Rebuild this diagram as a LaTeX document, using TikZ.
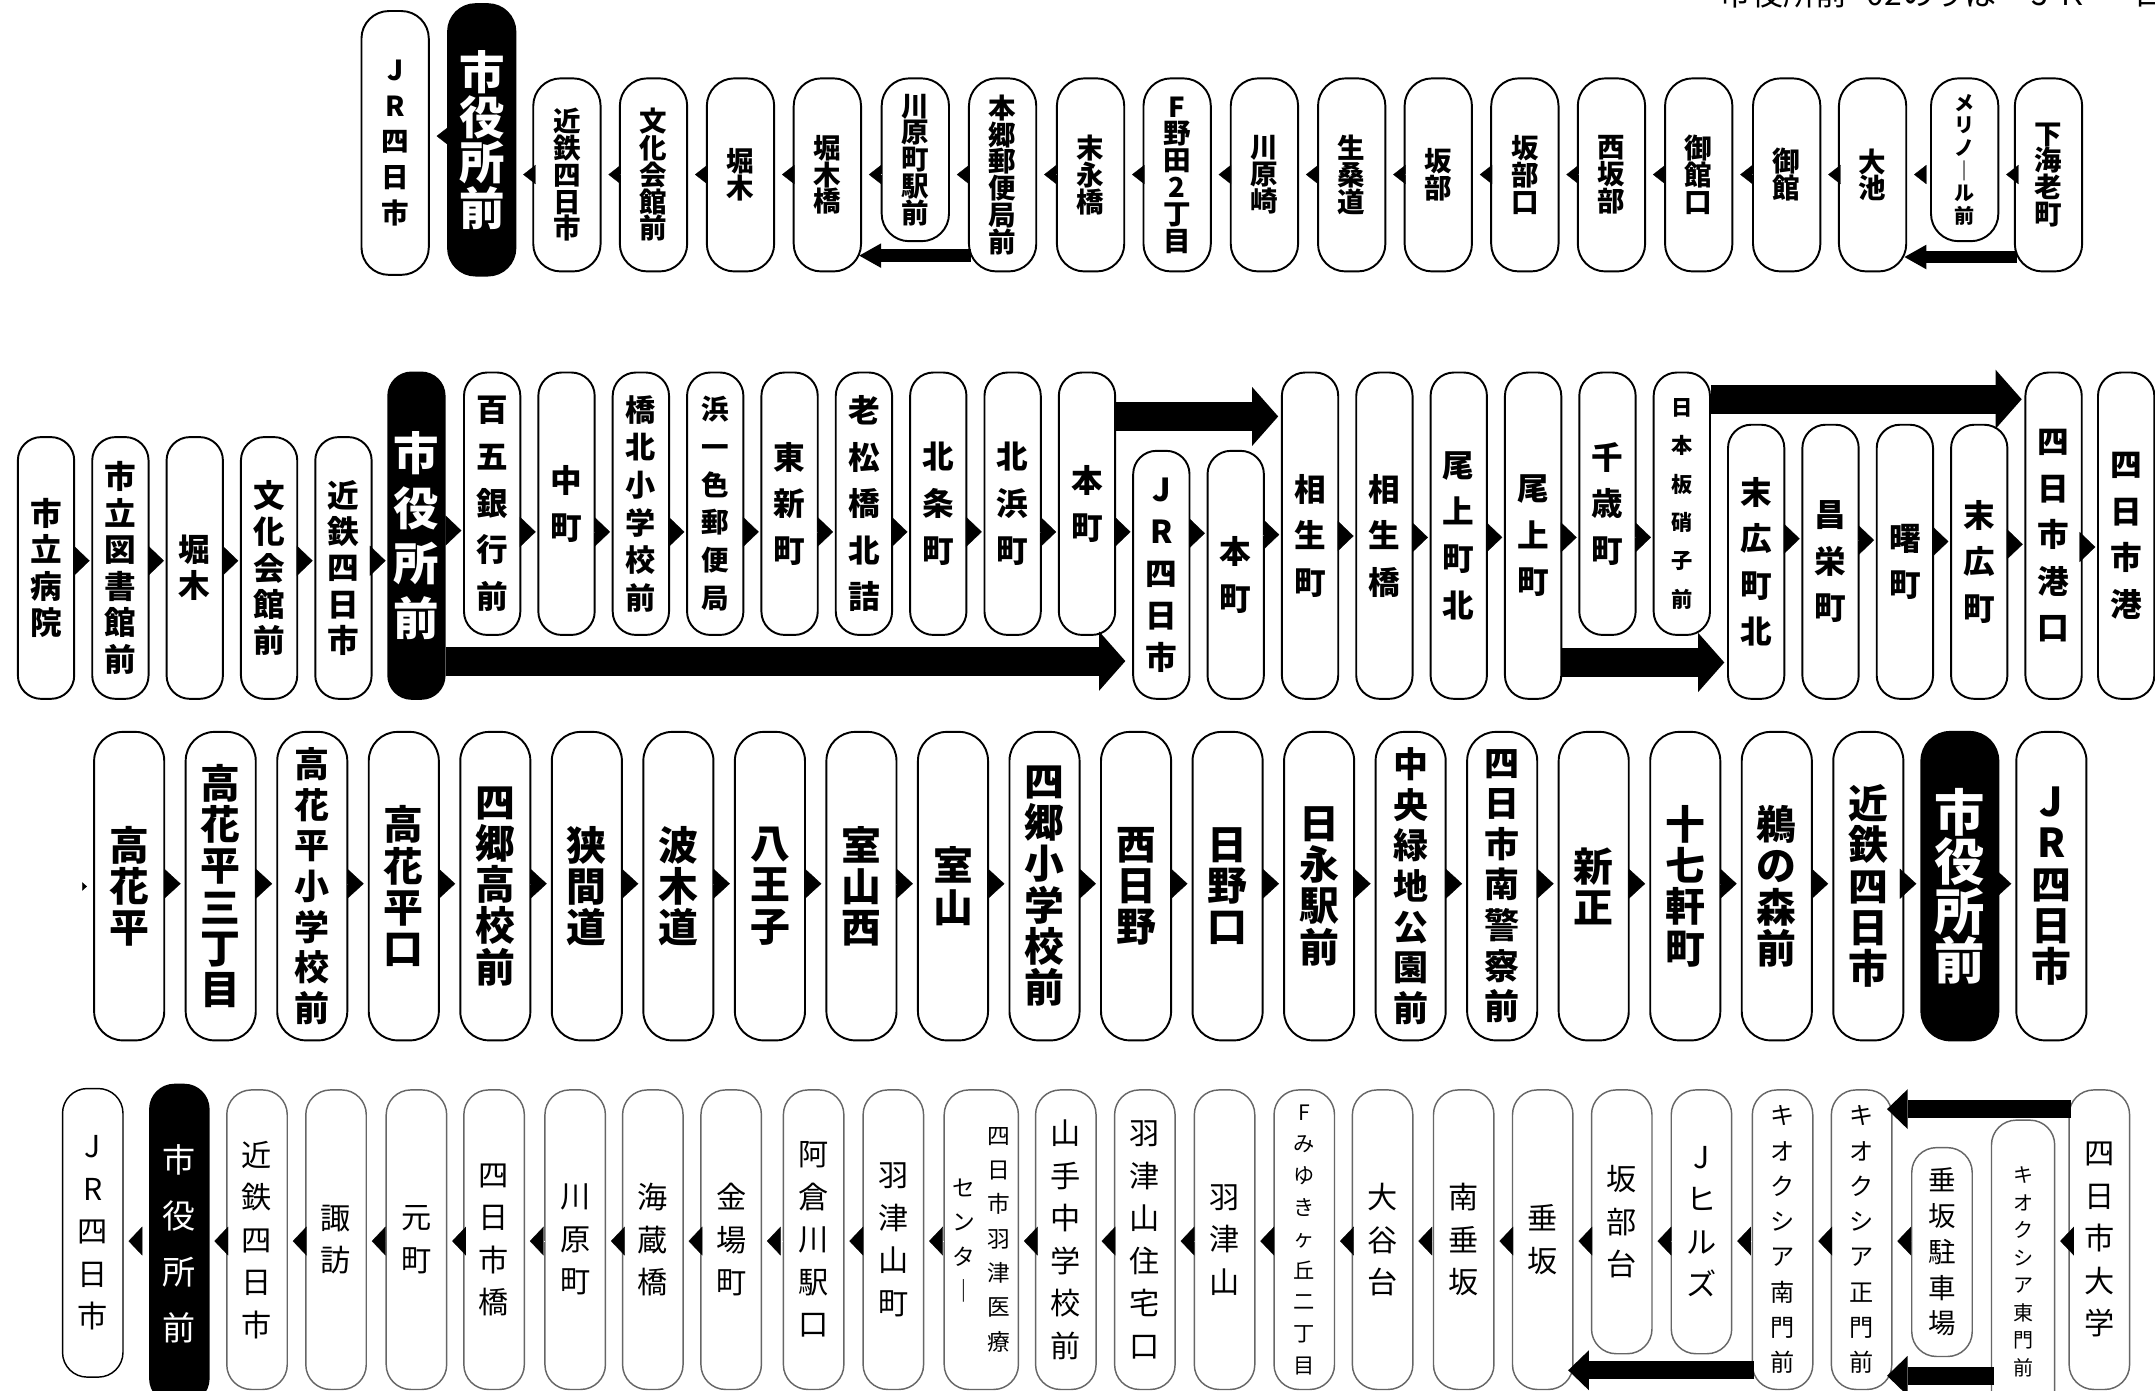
\documentclass[tikz,border=0pt]{standalone}
\usepackage{fontspec}
\newfontfamily\jp{Noto Sans CJK JP}
\usetikzlibrary{arrows.meta}
\lineskiplimit=-\maxdimen

\begin{document}
\begin{tikzpicture}[x=0.02cm, y=-0.02cm,
    bx/.style={rectangle, draw, line width=0.8pt, fill=white,
               inner sep=0pt, align=center},
    bx1/.style={bx, minimum width=0.98cm, minimum height=2.81cm, rounded corners=0.4cm,
                font=\jp\bfseries\fontsize{11.4}{11.1}\selectfont},
    bx2/.style={bx, minimum width=0.82cm, minimum height=4.75cm, rounded corners=0.34cm,
                font=\jp\bfseries\fontsize{13.1}{19.3}\selectfont},
    bx3/.style={bx, minimum width=1.02cm, minimum height=4.49cm, rounded corners=0.42cm,
                font=\jp\bfseries\fontsize{16.5}{17.1}\selectfont},
    bx4/.style={bx, draw=black!60, line width=0.6pt, text=black,
                minimum width=0.88cm, minimum height=4.36cm, rounded corners=0.36cm,
                font=\jp\fontsize{12.5}{17.6}\selectfont},
    blk/.style={fill=black, text=white},
    f2a/.style={font=\jp\bfseries\fontsize{13.1}{15.1}\selectfont},
    f3s/.style={font=\jp\bfseries\fontsize{14.5}{16.8}\selectfont},
    f4k/.style={font=\jp\fontsize{10}{14.6}\selectfont},
    tri/.style={draw=white, line width=0.1pt},
    tri1/.style={tri, -{Triangle[length=0.18cm, width=0.28cm, color=black, fill=black]},
                 shorten >=0.1cm},
    tri2/.style={tri, -{Triangle[length=0.23cm, width=0.44cm, color=black, fill=black]},
                 shorten >=0.025cm},
    tri3/.style={tri, -{Triangle[length=0.24cm, width=0.44cm, color=black, fill=black]},
                 shorten >=0.06cm},
    tri4/.style={tri, -{Triangle[length=0.2cm, width=0.42cm, color=black, fill=black]},
                 shorten >=0.07cm},
    big1/.style={line width=0.18cm, -{Triangle[length=0.32cm, width=0.36cm, line width=0pt]},
                 shorten >=-0.04cm, shorten <=-0.04cm},
    big2/.style={line width=0.42cm, -{Triangle[length=0.38cm, width=0.86cm, line width=0pt]},
                 shorten >=0.04cm},
    big4/.style={line width=0.26cm, -{Triangle[length=0.3cm, width=0.58cm, line width=0pt]},
                 shorten >=-0.08cm, shorten <=-0.04cm}
]
  \useasboundingbox (0,0) rectangle (1568,1011.4);

  \node[anchor=base west, inner sep=0pt, font=\jp\fontsize{13.2}{13.2}\selectfont]
       (cap) at (1251,3.8) {市役所前\hspace{8pt}02のりば\hspace{11pt}ＪＲ\hspace{20pt}四日市};

  \node[bx1, minimum height=3.84cm, font=\jp\bfseries\fontsize{11.4}{14.8}\selectfont]
       (jr1) at (287.5,104) {J\\R\\四\\日\\市};
  \node[bx1, blk, minimum height=3.95cm, font=\jp\bfseries\fontsize{18.8}{18.8}\selectfont]
       (city1) at (350.5,101.75) {市\\役\\所\\前};
  \node[bx1] (kin1)        at (412.5,127.25)  {近\\鉄\\四\\日\\市};
  \node[bx1] (bunka1)      at (475.5,127.25)  {文\\化\\会\\館\\前};
  \node[bx1] (horiki1)     at (538.8,127.25)  {堀\\木};
  \node[bx1] (horikibashi) at (602,127.25)    {堀\\木\\橋};
  \node[bx1, minimum height=2.37cm] (kawaraeki) at (666,116.25) {川\\原\\町\\駅\\前};
  \node[bx1] (hongo)       at (729.5,127.25)  {本\\郷\\郵\\便\\局\\前};
  \node[bx1] (suenaga)     at (793.5,127.25)  {末\\永\\橋};
  \node[bx1] (fnoda)       at (856.5,127.25)  {F\\野\\田\\2\\丁\\目};
  \node[bx1] (kawarazaki)  at (920,127.25)    {川\\原\\崎};
  \node[bx1] (ikuwa)       at (983.5,127.25)  {生\\桑\\道};
  \node[bx1] (sakabe)      at (1046.5,127.25) {坂\\部};
  \node[bx1] (sakabeguchi) at (1109.5,127.25) {坂\\部\\口};
  \node[bx1] (nishisakabe) at (1172.5,127.25) {西\\坂\\部};
  \node[bx1] (mitachiguchi) at (1236,127.25)  {御\\館\\口};
  \node[bx1] (mitachi)     at (1300,127.25)   {御\\館};
  \node[bx1] (oike)        at (1362.5,127.25) {大\\池};
  \node[bx1, minimum height=2.37cm, font=\jp\bfseries\fontsize{8.3}{9.4}\selectfont]
       (merinoll) at (1429.5,116.25) {メ\\リ\\ノ\\｜\\ル\\前};
  \node[bx1] (shimoebi)    at (1490.5,127.25) {下\\海\\老\\町};

  \draw[tri1] (shimoebi.west |- 0,127) -- (merinoll.east |- 0,127);
  \draw[tri1] (merinoll.west |- 0,127) -- (oike.east |- 0,127);
  \draw[tri1] (oike.west |- 0,127) -- (mitachi.east |- 0,127);
  \draw[tri1] (mitachi.west |- 0,127) -- (mitachiguchi.east |- 0,127);
  \draw[tri1] (mitachiguchi.west |- 0,127) -- (nishisakabe.east |- 0,127);
  \draw[tri1] (nishisakabe.west |- 0,127) -- (sakabeguchi.east |- 0,127);
  \draw[tri1] (sakabeguchi.west |- 0,127) -- (sakabe.east |- 0,127);
  \draw[tri1] (sakabe.west |- 0,127) -- (ikuwa.east |- 0,127);
  \draw[tri1] (ikuwa.west |- 0,127) -- (kawarazaki.east |- 0,127);
  \draw[tri1] (kawarazaki.west |- 0,127) -- (fnoda.east |- 0,127);
  \draw[tri1] (fnoda.west |- 0,127) -- (suenaga.east |- 0,127);
  \draw[tri1] (suenaga.west |- 0,127) -- (hongo.east |- 0,127);
  \draw[tri1] (hongo.west |- 0,127) -- (kawaraeki.east |- 0,127);
  \draw[tri1] (kawaraeki.west |- 0,127) -- (horikibashi.east |- 0,127);
  \draw[tri1] (horikibashi.west |- 0,127) -- (horiki1.east |- 0,127);
  \draw[tri1] (horiki1.west |- 0,127) -- (bunka1.east |- 0,127);
  \draw[tri1] (bunka1.west |- 0,127) -- (kin1.east |- 0,127);
  \draw[tri1] (kin1.west |- 0,127) -- (city1.east |- 0,127);
  \draw[tri1] (city1.west |- 0,99) -- (jr1.east |- 0,99);
  \draw[big1] (hongo.west |- 0,186) -- (horikibashi.east |- 0,186);
  \draw[big1] (shimoebi.west |- 0,187) -- (oike.east |- 0,187);

  \node[bx2, minimum height=3.81cm, f2a] (shiritsu) at (33.5,413.25)  {市\\立\\病\\院};
  \node[bx2, minimum height=3.81cm, f2a] (tosho)    at (87.6,413.25)  {市\\立\\図\\書\\館\\前};
  \node[bx2, minimum height=3.81cm, f2a] (horiki2)  at (141.7,413.25) {堀\\木};
  \node[bx2, minimum height=3.81cm, f2a] (bunka2)   at (195.8,413.25) {文\\化\\会\\館\\前};
  \node[bx2, minimum height=3.81cm, f2a] (kin2)     at (249.9,413.25) {近\\鉄\\四\\日\\市};
  \node[bx2, blk, font=\jp\bfseries\fontsize{18.8}{22.8}\selectfont]
       (city2) at (303,389.75) {市\\役\\所\\前};
  \node[bx2, minimum height=3.82cm] (hyakugo)   at (358.1,366.5) {百\\五\\銀\\行\\前};
  \node[bx2, minimum height=3.82cm] (nakamachi) at (412.2,366.5) {中\\町};
  \node[bx2, minimum height=3.82cm, font=\jp\bfseries\fontsize{12.5}{15.6}\selectfont]
       (kyohoku) at (466.3,366.5) {橋\\北\\小\\学\\校\\前};
  \node[bx2, minimum height=3.82cm, font=\jp\bfseries\fontsize{11.4}{15.6}\selectfont]
       (hamaisshiki) at (520.4,366.5) {浜\\一\\色\\郵\\便\\局};
  \node[bx2, minimum height=3.82cm] (higashishin) at (574.5,366.5) {東\\新\\町};
  \node[bx2, minimum height=3.82cm] (oimatsu)   at (628.6,366.5) {老\\松\\橋\\北\\詰};
  \node[bx2, minimum height=3.82cm] (hojo)      at (682.7,366.5) {北\\条\\町};
  \node[bx2, minimum height=3.82cm] (kitahama)  at (736.8,366.5) {北\\浜\\町};
  \node[bx2, minimum height=3.82cm] (honmachi1) at (790.9,366.5) {本\\町};
  \node[bx2, minimum height=3.61cm, font=\jp\bfseries\fontsize{13.1}{17.4}\selectfont]
       (jr2) at (845,418.25) {J\\R\\四\\日\\市};
  \node[bx2, minimum height=3.61cm] (honmachi2) at (899.1,418.25) {本\\町};
  \node[bx2] (aioicho)   at (953.2,389.75)  {相\\生\\町};
  \node[bx2] (aioibashi) at (1007.3,389.75) {相\\生\\橋};
  \node[bx2] (onoekita)  at (1061.4,389.75) {尾\\上\\町\\北};
  \node[bx2] (onoe)      at (1115.5,389.75) {尾\\上\\町};
  \node[bx2, minimum height=3.82cm] (chitose) at (1169.6,366.5) {千\\歳\\町};
  \node[bx2, minimum height=3.82cm, font=\jp\bfseries\fontsize{8.8}{15.9}\selectfont]
       (nihonita) at (1223.7,366.5) {日\\本\\板\\硝\\子\\前};
  \node[bx2, minimum height=3.99cm] (suehirokita) at (1277.8,408.75) {末\\広\\町\\北};
  \node[bx2, minimum height=3.99cm] (shoei)   at (1331.9,408.75) {昌\\栄\\町};
  \node[bx2, minimum height=3.99cm] (akebono) at (1386,408.75)   {曙\\町};
  \node[bx2, minimum height=3.99cm] (suehiro) at (1440.1,408.75) {末\\広\\町};
  \node[bx2] (minatoguchi) at (1494.2,389.75) {四\\日\\市\\港\\口};
  \node[bx2] (minato)      at (1547,389.75)   {四\\日\\市\\港};

  \draw[tri2] (shiritsu.east |- 0,408) -- (tosho.west |- 0,408);
  \draw[tri2] (tosho.east |- 0,408) -- (horiki2.west |- 0,408);
  \draw[tri2] (horiki2.east |- 0,408) -- (bunka2.west |- 0,408);
  \draw[tri2] (bunka2.east |- 0,408) -- (kin2.west |- 0,408);
  \draw[tri2] (kin2.east |- 0,408) -- (city2.west |- 0,408);
  \draw[tri2] (city2.east |- 0,386) -- (hyakugo.west |- 0,386);
  \draw[tri2] (hyakugo.east |- 0,387) -- (nakamachi.west |- 0,387);
  \draw[tri2] (nakamachi.east |- 0,387) -- (kyohoku.west |- 0,387);
  \draw[tri2] (kyohoku.east |- 0,387) -- (hamaisshiki.west |- 0,387);
  \draw[tri2] (hamaisshiki.east |- 0,387) -- (higashishin.west |- 0,387);
  \draw[tri2] (higashishin.east |- 0,387) -- (oimatsu.west |- 0,387);
  \draw[tri2] (oimatsu.east |- 0,387) -- (hojo.west |- 0,387);
  \draw[tri2] (hojo.east |- 0,387) -- (kitahama.west |- 0,387);
  \draw[tri2] (kitahama.east |- 0,387) -- (honmachi1.west |- 0,387);
  \draw[tri2] (honmachi1.east |- 0,387) -- (jr2.west |- 0,387);
  \draw[tri2] (jr2.east |- 0,388) -- (honmachi2.west |- 0,388);
  \draw[tri2] (honmachi2.east |- 0,389) -- (aioicho.west |- 0,389);
  \draw[tri2] (aioicho.east |- 0,390) -- (aioibashi.west |- 0,390);
  \draw[tri2] (aioibashi.east |- 0,391) -- (onoekita.west |- 0,391);
  \draw[tri2] (onoekita.east |- 0,391) -- (onoe.west |- 0,391);
  \draw[tri2] (onoe.east |- 0,391) -- (chitose.west |- 0,391);
  \draw[tri2] (chitose.east |- 0,391) -- (nihonita.west |- 0,391);
  \draw[tri2] (suehirokita.east |- 0,392) -- (shoei.west |- 0,392);
  \draw[tri2] (shoei.east |- 0,393) -- (akebono.west |- 0,393);
  \draw[tri2] (akebono.east |- 0,394) -- (suehiro.west |- 0,394);
  \draw[tri2] (suehiro.east |- 0,396) -- (minatoguchi.west |- 0,396);
  \draw[tri2] (minatoguchi.east |- 0,398) -- (minato.west |- 0,398);
  \draw[big2] (honmachi1.east |- 0,303) -- (aioicho.west |- 0,303);
  \draw[big2, shorten >=0.1cm] (city2.east |- 0,481) -- (jr2.west |- 0,481);
  \draw[big2] (nihonita.east |- 0,290.5) -- (minatoguchi.west |- 0,290.5);
  \draw[big2] (onoe.east |- 0,482) -- (suehirokita.west |- 0,482);

  \node[bx3] (kouka)         at (94,644.75)    {高\\花\\平};
  \node[bx3] (sanchome)      at (160.6,644.75) {高\\花\\平\\三\\丁\\目};
  \node[bx3, f3s] (kokaelem) at (227.2,644.75) {高\\花\\平\\小\\学\\校\\前};
  \node[bx3] (kokaguchi)     at (293.8,644.75) {高\\花\\平\\口};
  \node[bx3] (yogohigh)      at (360.4,644.75) {四\\郷\\高\\校\\前};
  \node[bx3] (hazama)        at (427,644.75)   {狭\\間\\道};
  \node[bx3] (namiki)        at (493.6,644.75) {波\\木\\道};
  \node[bx3] (hachioji)      at (560.2,644.75) {八\\王\\子};
  \node[bx3] (muroyamanishi) at (626.8,644.75) {室\\山\\西};
  \node[bx3] (muroyama)      at (693.4,644.75) {室\\山};
  \node[bx3] (yogoelem)      at (760,644.75)   {四\\郷\\小\\学\\校\\前};
  \node[bx3] (nishihino)     at (826.6,644.75) {西\\日\\野};
  \node[bx3] (hinoguchi)     at (893.2,644.75) {日\\野\\口};
  \node[bx3] (hinaga)        at (959.8,644.75) {日\\永\\駅\\前};
  \node[bx3, f3s] (ryokuchi) at (1026.4,644.75) {中\\央\\緑\\地\\公\\園\\前};
  \node[bx3, f3s] (police)   at (1093,644.75)   {四\\日\\市\\南\\警\\察\\前};
  \node[bx3] (shinsho)       at (1159.6,644.75) {新\\正};
  \node[bx3] (jushichi)      at (1226.2,644.75) {十\\七\\軒\\町};
  \node[bx3] (unomori)       at (1292.8,644.75) {鵜\\の\\森\\前};
  \node[bx3] (kin3)          at (1359.4,644.75) {近\\鉄\\四\\日\\市};
  \node[bx3, blk, minimum width=1.12cm, font=\jp\bfseries\fontsize{20.8}{20.5}\selectfont]
       (city3) at (1426,644.75) {市\\役\\所\\前};
  \node[bx3] (jr3)           at (1492.6,644.75) {J\\R\\四\\日\\市};

  \coordinate (mk) at (59,645);
  \draw[tri, -{Triangle[length=0.07cm, width=0.12cm, color=black, fill=black]},
        shorten >=0.09cm] (mk) -- (kouka.west |- 0,645);
  \draw[tri3] (kouka.east |- 0,643) -- (sanchome.west |- 0,643);
  \draw[tri3] (sanchome.east |- 0,643) -- (kokaelem.west |- 0,643);
  \draw[tri3] (kokaelem.east |- 0,643) -- (kokaguchi.west |- 0,643);
  \draw[tri3] (kokaguchi.east |- 0,643) -- (yogohigh.west |- 0,643);
  \draw[tri3] (yogohigh.east |- 0,643) -- (hazama.west |- 0,643);
  \draw[tri3] (hazama.east |- 0,643) -- (namiki.west |- 0,643);
  \draw[tri3] (namiki.east |- 0,643) -- (hachioji.west |- 0,643);
  \draw[tri3] (hachioji.east |- 0,643) -- (muroyamanishi.west |- 0,643);
  \draw[tri3] (muroyamanishi.east |- 0,643) -- (muroyama.west |- 0,643);
  \draw[tri3] (muroyama.east |- 0,643) -- (yogoelem.west |- 0,643);
  \draw[tri3] (yogoelem.east |- 0,643) -- (nishihino.west |- 0,643);
  \draw[tri3] (nishihino.east |- 0,643) -- (hinoguchi.west |- 0,643);
  \draw[tri3] (hinoguchi.east |- 0,643) -- (hinaga.west |- 0,643);
  \draw[tri3] (hinaga.east |- 0,643) -- (ryokuchi.west |- 0,643);
  \draw[tri3] (ryokuchi.east |- 0,643) -- (police.west |- 0,643);
  \draw[tri3] (police.east |- 0,643) -- (shinsho.west |- 0,643);
  \draw[tri3] (shinsho.east |- 0,643) -- (jushichi.west |- 0,643);
  \draw[tri3] (jushichi.east |- 0,643) -- (unomori.west |- 0,643);
  \draw[tri3] (unomori.east |- 0,643) -- (kin3.west |- 0,643);
  \draw[tri3] (kin3.east |- 0,643) -- (city3.west |- 0,643);
  \draw[tri3] (city3.east |- 0,643) -- (jr3.west |- 0,643);

  \node[bx4, draw=black, minimum height=4.2cm] (jr4) at (67.5,897) {J\\R\\四\\日\\市};
  \node[bx4, blk, draw=black, minimum width=0.86cm, minimum height=4.64cm,
        font=\jp\fontsize{13.7}{23.3}\selectfont] (city4) at (130.5,905) {市\\役\\所\\前};
  \node[bx4] (kin4)           at (187,902)   {近\\鉄\\四\\日\\市};
  \node[bx4] (suwa)           at (244.5,902) {諏\\訪};
  \node[bx4] (motomachi)      at (303,902)   {元\\町};
  \node[bx4] (yokkaichibashi) at (359.5,902) {四\\日\\市\\橋};
  \node[bx4] (kawaramachi)    at (418.5,902) {川\\原\\町};
  \node[bx4] (kaizo)          at (475,902)   {海\\蔵\\橋};
  \node[bx4] (kaneba)         at (532,902)   {金\\場\\町};
  \node[bx4] (akura)          at (592,902)   {阿\\倉\\川\\駅\\口};
  \node[bx4] (hazuyamacho)    at (650,902)   {羽\\津\\山\\町};
  \node[bx4, minimum width=1.08cm, font=\jp\fontsize{9.4}{14.2}\selectfont] (iryo) at (714,902)
       {\raisebox{-21.6pt}[0pt][0pt]{\vtop{\hbox{セ}\hbox{ン}\hbox{タ}\hbox{｜}}}%
        \hspace{4.8pt}\vtop{\hbox{四}\hbox{日}\hbox{市}\hbox{羽}\hbox{津}\hbox{医}\hbox{療}}};
  \node[bx4] (yamate)         at (775.5,902) {山\\手\\中\\学\\校\\前};
  \node[bx4] (hazujutaku)     at (833,902)   {羽\\津\\山\\住\\宅\\口};
  \node[bx4] (hazuyama)       at (891,902)   {羽\\津\\山};
  \node[bx4, font=\jp\fontsize{8.8}{13.1}\selectfont]
       (miyuki) at (949,902) {F\\み\\ゆ\\き\\ヶ\\丘\\二\\丁\\目};
  \node[bx4] (ootani)         at (1006,902)   {大\\谷\\台};
  \node[bx4] (minamitaru)     at (1065,902)   {南\\垂\\坂};
  \node[bx4] (tarusaka)       at (1122.5,902) {垂\\坂};
  \node[bx4, minimum height=3.84cm] (sakabedai) at (1180,889) {坂\\部\\台};
  \node[bx4, minimum height=3.84cm] (jhills)    at (1238,889) {J\\ヒ\\ル\\ズ};
  \node[bx4, f4k] (minamimon) at (1297,902)   {キ\\オ\\ク\\シ\\ア\\南\\門\\前};
  \node[bx4, f4k] (seimon)    at (1354.5,902) {キ\\オ\\ク\\シ\\ア\\正\\門\\前};
  \node[bx4, minimum height=3.04cm, font=\jp\fontsize{11.4}{14.8}\selectfont]
       (chushajo) at (1413,911) {垂\\坂\\駐\\車\\場};
  \node[bx4, minimum width=0.92cm, minimum height=4.42cm, font=\jp\fontsize{8.3}{11.4}\selectfont]
       (higashimon) at (1472,925.5) {キ\\オ\\ク\\シ\\ア\\東\\門\\前};
  \node[bx4] (daigaku)        at (1527.5,902) {四\\日\\市\\大\\学};

  \draw[tri4] (daigaku.west |- 0,903) -- (higashimon.east |- 0,903);
  \draw[tri4] (chushajo.west |- 0,903) -- (seimon.east |- 0,903);
  \draw[tri4] (seimon.west |- 0,903) -- (minamimon.east |- 0,903);
  \draw[tri4] (minamimon.west |- 0,903) -- (jhills.east |- 0,903);
  \draw[tri4] (jhills.west |- 0,903) -- (sakabedai.east |- 0,903);
  \draw[tri4] (sakabedai.west |- 0,903) -- (tarusaka.east |- 0,903);
  \draw[tri4] (tarusaka.west |- 0,903) -- (minamitaru.east |- 0,903);
  \draw[tri4] (minamitaru.west |- 0,903) -- (ootani.east |- 0,903);
  \draw[tri4] (ootani.west |- 0,903) -- (miyuki.east |- 0,903);
  \draw[tri4] (miyuki.west |- 0,903) -- (hazuyama.east |- 0,903);
  \draw[tri4] (hazuyama.west |- 0,903) -- (hazujutaku.east |- 0,903);
  \draw[tri4] (hazujutaku.west |- 0,903) -- (yamate.east |- 0,903);
  \draw[tri4] (yamate.west |- 0,903) -- (iryo.east |- 0,903);
  \draw[tri4] (iryo.west |- 0,903) -- (hazuyamacho.east |- 0,903);
  \draw[tri4] (hazuyamacho.west |- 0,903) -- (akura.east |- 0,903);
  \draw[tri4] (akura.west |- 0,903) -- (kaneba.east |- 0,903);
  \draw[tri4] (kaneba.west |- 0,903) -- (kaizo.east |- 0,903);
  \draw[tri4] (kaizo.west |- 0,903) -- (kawaramachi.east |- 0,903);
  \draw[tri4] (kawaramachi.west |- 0,903) -- (yokkaichibashi.east |- 0,903);
  \draw[tri4] (yokkaichibashi.west |- 0,903) -- (motomachi.east |- 0,903);
  \draw[tri4] (motomachi.west |- 0,903) -- (suwa.east |- 0,903);
  \draw[tri4] (suwa.west |- 0,903) -- (kin4.east |- 0,903);
  \draw[tri4] (kin4.west |- 0,903) -- (city4.east |- 0,903);
  \draw[tri4] (city4.west |- 0,903) -- (jr4.east |- 0,903);
  \draw[big4] (daigaku.west |- 0,807) -- (seimon.east |- 0,807);
  \draw[big4] (higashimon.west |- 0,1001) -- (seimon.east |- 0,1001);
  \draw[big4] (minamimon.west |- 0,997) -- (tarusaka.east |- 0,997);
\end{tikzpicture}
\end{document}
